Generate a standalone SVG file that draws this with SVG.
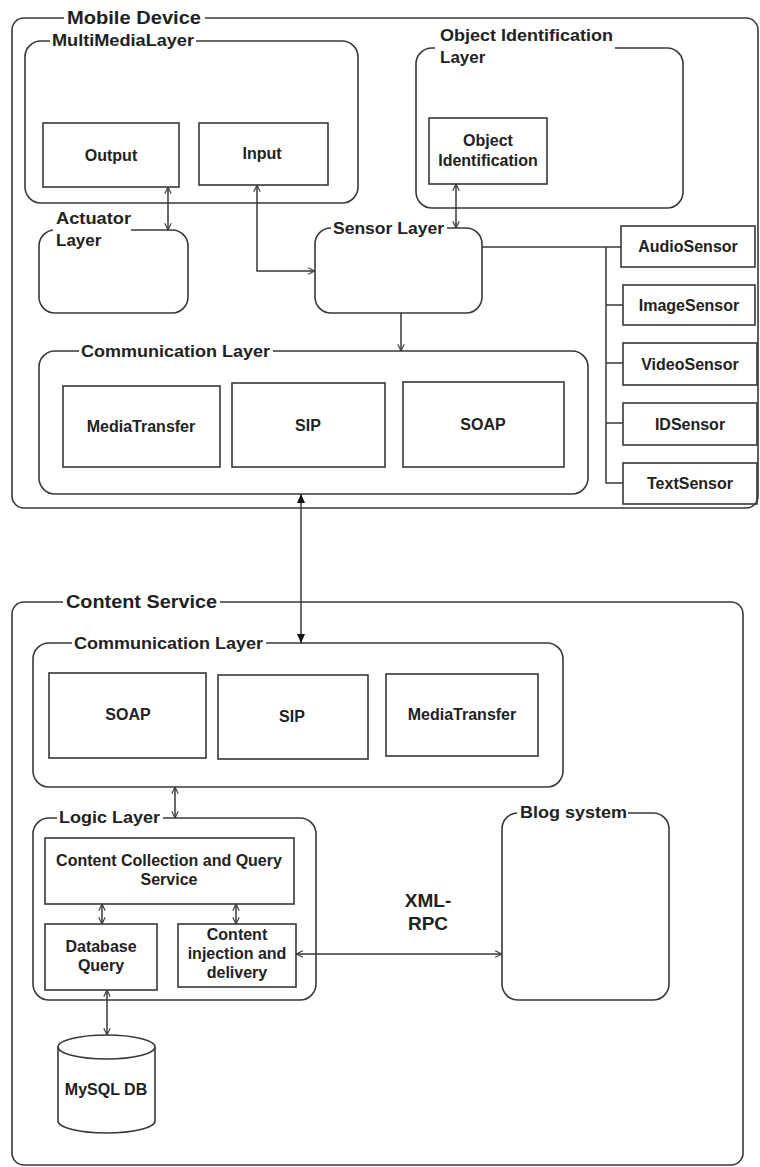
<svg xmlns="http://www.w3.org/2000/svg" width="760" height="1167" viewBox="0 0 760 1167">
<defs>
<style>
.box{fill:none;stroke:#383838;stroke-width:1.6}
.ln{fill:none;stroke:#383838;stroke-width:1.5}
.bg{fill:#ffffff;stroke:none}
.h1{font-family:"Liberation Sans",Arial,sans-serif;font-weight:bold;font-size:19px;fill:#222}
.h2{font-family:"Liberation Sans",Arial,sans-serif;font-weight:bold;font-size:17px;fill:#222}
.t{font-family:"Liberation Sans",Arial,sans-serif;font-weight:bold;font-size:16px;fill:#222;text-anchor:middle}
.x{font-family:"Liberation Sans",Arial,sans-serif;font-weight:bold;font-size:19px;fill:#222;text-anchor:middle}
</style>
<marker id="op" viewBox="0 0 10 10" refX="9.5" refY="5" markerWidth="8" markerHeight="8" markerUnits="userSpaceOnUse" orient="auto-start-reverse">
<path d="M1,1 L9.5,5 L1,9" fill="none" stroke="#383838" stroke-width="1.4"/>
</marker>
<marker id="fl" viewBox="0 0 10 10" refX="10" refY="5" markerWidth="9" markerHeight="9" markerUnits="userSpaceOnUse" orient="auto-start-reverse">
<path d="M0,0.5 L10,5 L0,9.5 z" fill="#111"/>
</marker>
</defs>
<rect width="760" height="1167" fill="#ffffff"/>

<g id="mobile-device">
<rect class="box" x="12" y="18" width="746" height="490" rx="12"/>
<rect class="bg" x="64" y="12" width="141" height="12"/>
<text class="h1" x="67" y="24" textLength="134" lengthAdjust="spacingAndGlyphs">Mobile Device</text>
</g>

<g id="multimedia-layer">
<rect class="box" x="25" y="41" width="333" height="162" rx="16"/>
<rect class="bg" x="50" y="36" width="146" height="10"/>
<text class="h2" x="52" y="46" textLength="142" lengthAdjust="spacingAndGlyphs">MultiMediaLayer</text>
</g>
<g id="output">
<rect class="box" x="43" y="123" width="136" height="64"/>
<text class="t" x="111" y="161">Output</text>
</g>
<g id="input">
<rect class="box" x="199" y="123" width="129" height="62"/>
<text class="t" x="262" y="159">Input</text>
</g>

<g id="actuator-layer">
<rect class="box" x="39" y="230" width="149" height="83" rx="16"/>
<rect class="bg" x="53" y="226" width="78" height="8"/>
<text class="h2" x="56" y="224" textLength="75" lengthAdjust="spacingAndGlyphs">Actuator</text>
<text class="h2" x="56" y="246">Layer</text>
</g>

<g id="object-identification-layer">
<rect class="box" x="416" y="48" width="267" height="160" rx="16"/>
<rect class="bg" x="435" y="43" width="180" height="10"/>
<text class="h2" x="440" y="41" textLength="173" lengthAdjust="spacingAndGlyphs">Object Identification</text>
<text class="h2" x="440" y="63">Layer</text>
</g>
<g id="object-identification">
<rect class="box" x="429" y="118" width="118" height="66"/>
<text class="t" x="488" y="146">Object</text>
<text class="t" x="488" y="166">Identification</text>
</g>

<g id="sensor-layer">
<rect class="box" x="315" y="228" width="167" height="85" rx="16"/>
<rect class="bg" x="331" y="223" width="116" height="10"/>
<text class="h2" x="333" y="234" textLength="111" lengthAdjust="spacingAndGlyphs">Sensor Layer</text>
</g>

<g id="audio-sensor">
<rect class="box" x="621" y="226" width="134" height="41"/>
<text class="t" x="688" y="252">AudioSensor</text>
</g>
<g id="image-sensor">
<rect class="box" x="623" y="285" width="132" height="40"/>
<text class="t" x="689" y="311">ImageSensor</text>
</g>
<g id="video-sensor">
<rect class="box" x="623" y="343" width="134" height="42"/>
<text class="t" x="690" y="370">VideoSensor</text>
</g>
<g id="id-sensor">
<rect class="box" x="623" y="403" width="134" height="42"/>
<text class="t" x="690" y="430">IDSensor</text>
</g>
<g id="text-sensor">
<rect class="box" x="623" y="463" width="134" height="41"/>
<text class="t" x="690" y="489">TextSensor</text>
</g>

<g id="communication-layer-mobile">
<rect class="box" x="39" y="351" width="549" height="143" rx="16"/>
<rect class="bg" x="79" y="346" width="194" height="10"/>
<text class="h2" x="81" y="357" textLength="189" lengthAdjust="spacingAndGlyphs">Communication Layer</text>
</g>
<g id="mediatransfer-mobile">
<rect class="box" x="63" y="386" width="157" height="81"/>
<text class="t" x="141" y="432">MediaTransfer</text>
</g>
<g id="sip-mobile">
<rect class="box" x="232" y="383" width="153" height="84"/>
<text class="t" x="308" y="431">SIP</text>
</g>
<g id="soap-mobile">
<rect class="box" x="403" y="382" width="161" height="85"/>
<text class="t" x="483" y="430">SOAP</text>
</g>

<g id="content-service">
<rect class="box" x="12" y="602" width="731" height="563" rx="12"/>
<rect class="bg" x="63" y="596" width="157" height="12"/>
<text class="h1" x="66" y="608" textLength="151" lengthAdjust="spacingAndGlyphs">Content Service</text>
</g>

<g id="communication-layer-service">
<rect class="box" x="33" y="643" width="530" height="144" rx="16"/>
<rect class="bg" x="72" y="638" width="194" height="10"/>
<text class="h2" x="74" y="649" textLength="189" lengthAdjust="spacingAndGlyphs">Communication Layer</text>
</g>
<g id="soap-service">
<rect class="box" x="49" y="673" width="157" height="85"/>
<text class="t" x="128" y="720">SOAP</text>
</g>
<g id="sip-service">
<rect class="box" x="218" y="675" width="150" height="84"/>
<text class="t" x="292" y="722">SIP</text>
</g>
<g id="mediatransfer-service">
<rect class="box" x="386" y="674" width="152" height="82"/>
<text class="t" x="462" y="720">MediaTransfer</text>
</g>

<g id="logic-layer">
<rect class="box" x="33" y="818" width="283" height="182" rx="16"/>
<rect class="bg" x="57" y="813" width="106" height="10"/>
<text class="h2" x="59" y="823" textLength="101" lengthAdjust="spacingAndGlyphs">Logic Layer</text>
</g>
<g id="content-collection">
<rect class="box" x="45" y="838" width="249" height="66"/>
<text class="t" x="169" y="866">Content Collection and Query</text>
<text class="t" x="169" y="885">Service</text>
</g>
<g id="database-query">
<rect class="box" x="45" y="924" width="112" height="66"/>
<text class="t" x="101" y="952">Database</text>
<text class="t" x="101" y="971">Query</text>
</g>
<g id="content-injection">
<rect class="box" x="178" y="924" width="118" height="63"/>
<text class="t" x="237" y="940">Content</text>
<text class="t" x="237" y="959">injection and</text>
<text class="t" x="237" y="978">delivery</text>
</g>

<g id="mysql-db">
<path class="box" d="M58,1047 V1121 A48.5,12 0 0 0 155,1121 V1047"/>
<ellipse class="box" cx="106.5" cy="1047" rx="48.5" ry="12"/>
<text class="t" x="106" y="1095">MySQL DB</text>
</g>

<g id="blog-system">
<rect class="box" x="502" y="813" width="167" height="187" rx="16"/>
<rect class="bg" x="517" y="808" width="111" height="10"/>
<text class="h2" x="520" y="818" textLength="107" lengthAdjust="spacingAndGlyphs">Blog system</text>
</g>

<g id="xml-rpc-label">
<text class="x" x="428" y="907">XML-</text>
<text class="x" x="428" y="930">RPC</text>
</g>

<g id="connectors">
<line class="ln" x1="168" y1="187" x2="168" y2="230" marker-start="url(#op)" marker-end="url(#op)"/>
<path class="ln" d="M257,185 V271 H315" marker-start="url(#op)" marker-end="url(#op)"/>
<line class="ln" x1="456" y1="184" x2="456" y2="228" marker-start="url(#op)" marker-end="url(#op)"/>
<line class="ln" x1="482" y1="247" x2="621" y2="247"/>
<path class="ln" d="M606,247 V483 H623"/>
<line class="ln" x1="606" y1="305" x2="623" y2="305"/>
<line class="ln" x1="606" y1="363" x2="623" y2="363"/>
<line class="ln" x1="606" y1="423" x2="623" y2="423"/>
<line class="ln" x1="401" y1="313" x2="401" y2="351" marker-end="url(#op)"/>
<line class="ln" x1="301" y1="494" x2="301" y2="643" marker-start="url(#fl)" marker-end="url(#fl)"/>
<line class="ln" x1="175" y1="787" x2="175" y2="818" marker-start="url(#op)" marker-end="url(#op)"/>
<line class="ln" x1="102" y1="904" x2="102" y2="924" marker-start="url(#op)" marker-end="url(#op)"/>
<line class="ln" x1="236" y1="904" x2="236" y2="924" marker-start="url(#op)" marker-end="url(#op)"/>
<line class="ln" x1="107" y1="990" x2="107" y2="1035" marker-start="url(#op)" marker-end="url(#op)"/>
<line class="ln" x1="296" y1="954" x2="502" y2="954" marker-start="url(#op)" marker-end="url(#op)"/>
</g>
</svg>
